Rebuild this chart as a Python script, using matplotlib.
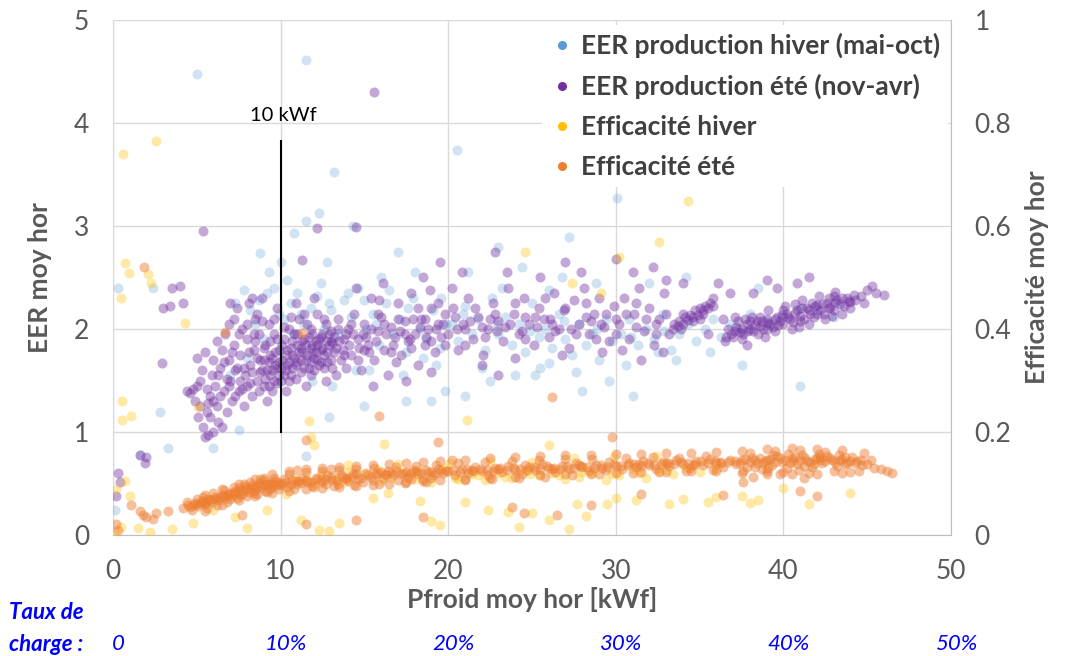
import matplotlib.pyplot as plt
from matplotlib.lines import Line2D
from matplotlib.transforms import blended_transform_factory

plt.rcParams['font.family'] = ['Lato', 'DejaVu Sans']

# EER production été (nov-avr) : (Pfroid kWf, EER)
eer_ete = [
    (4.4, 1.40), (4.6, 1.38), (4.8, 1.42), (5.0, 1.45), (4.9, 1.30), (5.2, 1.50), (5.1, 1.15), (5.4, 1.05),
    (5.5, 0.95), (5.7, 0.97), (5.6, 1.20), (5.8, 1.35), (5.3, 1.60), (5.9, 1.55), (6.0, 1.70), (6.1, 1.45),
    (6.2, 1.25), (6.3, 1.10), (6.0, 1.00), (6.4, 1.62), (6.5, 1.80), (6.6, 1.40), (6.8, 1.20), (6.7, 1.95),
    (6.9, 1.70), (7.0, 1.50), (7.1, 1.30), (6.9, 2.05), (7.2, 1.85), (7.3, 1.60), (5.0, 1.72), (5.5, 1.78),
    (6.2, 1.88), (5.7, 1.28), (6.5, 1.05),
    (7.4, 2.20), (7.5, 1.40), (7.6, 1.75), (7.7, 2.00), (7.8, 1.25), (7.9, 1.55), (8.0, 1.90), (8.1, 2.25),
    (8.2, 1.65), (8.3, 1.35), (8.4, 1.80), (8.5, 2.10), (8.6, 1.50), (8.7, 1.95), (8.8, 1.70), (8.9, 2.30),
    (9.0, 1.45), (9.1, 1.85), (9.2, 1.60), (9.3, 2.05), (9.4, 1.75), (9.5, 1.40), (9.6, 1.95), (9.7, 1.65),
    (9.8, 2.20), (9.9, 1.55), (7.5, 1.95), (8.0, 1.45), (8.6, 2.15), (9.2, 1.30), (9.6, 1.50), (9.9, 1.80),
    (8.3, 2.30), (7.2, 2.10), (7.0, 2.25), (8.9, 1.60), (9.5, 1.72), (9.8, 1.62), (9.4, 1.55), (9.0, 1.70),
    (10.0, 1.50), (10.1, 1.70), (10.2, 1.90), (10.3, 1.60), (10.4, 1.80), (10.5, 2.00), (10.6, 1.55),
    (10.7, 1.75), (10.8, 1.95), (10.9, 1.65), (11.0, 1.85), (11.1, 2.10), (11.2, 1.58), (11.3, 1.78),
    (11.4, 1.90), (11.5, 1.70), (11.6, 2.05), (11.7, 1.62), (11.8, 1.82), (11.9, 1.95), (12.0, 1.72),
    (12.1, 1.88), (12.2, 2.15), (12.3, 1.65), (12.4, 1.80), (12.5, 1.95), (12.6, 1.75), (12.7, 2.05),
    (12.8, 1.68), (12.9, 1.85), (13.0, 1.98), (13.2, 1.78), (13.4, 2.10), (13.6, 1.70), (13.8, 1.90),
    (14.0, 2.00), (10.3, 1.40), (10.9, 2.25), (11.5, 1.45), (12.0, 2.30), (12.7, 1.50), (13.3, 1.55),
    (13.9, 1.62), (10.5, 1.68), (11.2, 1.82), (11.9, 1.77), (12.4, 1.92), (10.7, 1.88), (11.8, 1.55),
    (13.1, 1.86),
    (14.2, 1.75), (14.4, 2.15), (14.6, 1.90), (14.8, 1.60), (15.0, 2.05), (15.2, 1.85), (15.4, 2.30),
    (15.6, 1.70), (15.8, 1.98), (16.0, 2.12), (16.2, 1.80), (16.4, 1.55), (16.6, 2.02), (16.8, 1.92),
    (17.0, 2.25), (17.2, 1.75), (17.4, 2.08), (17.6, 1.88), (17.8, 2.35), (18.0, 1.95), (18.2, 1.65),
    (18.4, 2.10), (18.6, 1.85), (18.8, 2.00), (19.0, 2.20), (19.2, 1.78), (19.4, 2.05), (19.6, 1.92),
    (19.8, 2.15), (14.5, 2.40), (16.1, 2.45), (17.5, 1.50), (18.5, 2.50), (15.5, 1.45), (19.0, 1.58),
    (16.9, 1.68), (14.9, 1.95), (18.9, 2.38), (17.9, 2.10), (15.9, 2.28),
    (20.0, 1.95), (20.3, 2.20), (20.6, 1.80), (20.9, 2.05), (21.2, 2.30), (21.5, 1.90), (21.8, 2.12),
    (22.1, 1.75), (22.4, 2.00), (22.7, 2.25), (23.0, 2.08), (23.3, 1.88), (23.6, 2.40), (23.9, 2.15),
    (24.2, 1.95), (24.5, 2.30), (24.8, 2.05), (25.1, 1.85), (25.4, 2.20), (25.7, 2.10), (26.0, 1.92),
    (26.3, 2.35), (26.6, 2.00), (26.9, 2.18), (27.2, 1.82), (27.5, 2.28), (27.8, 2.05), (28.1, 2.40),
    (28.4, 1.95), (28.7, 2.15), (29.0, 2.30), (29.3, 2.02), (29.6, 1.88), (29.9, 2.22), (20.8, 2.55),
    (22.0, 1.65), (23.5, 2.55), (24.0, 1.72), (25.5, 2.50), (26.8, 1.75), (27.9, 2.55), (29.2, 1.78),
    (21.0, 2.00), (22.5, 2.10), (24.6, 2.12), (26.2, 2.05), (28.5, 2.08), (20.2, 2.40), (27.0, 2.65),
    (23.0, 1.55),
    (30.2, 2.05), (30.5, 2.30), (30.8, 1.90), (31.1, 2.15), (31.4, 2.40), (31.7, 1.98), (32.0, 2.20),
    (32.3, 1.85), (32.6, 2.10), (32.9, 2.35), (33.2, 1.95), (33.5, 2.05), (33.8, 2.08), (34.1, 2.12),
    (34.4, 2.14), (34.7, 2.18), (35.0, 2.20), (35.3, 2.22), (35.6, 2.25), (33.9, 2.00), (34.6, 2.08),
    (35.2, 2.15), (35.8, 2.30), (36.1, 2.45), (36.4, 2.10), (36.7, 2.00), (30.4, 1.80), (31.5, 1.70),
    (32.8, 1.78), (34.0, 2.45), (35.5, 1.95), (31.0, 2.55), (32.2, 2.60), (33.0, 2.48), (36.8, 2.35),
    (30.0, 2.68), (36.5, 1.88),
    (37.0, 1.92), (37.2, 2.02), (37.4, 1.97), (37.6, 1.95), (37.8, 2.05), (38.0, 2.00), (38.2, 1.98),
    (38.4, 2.08), (38.6, 2.03), (38.8, 2.00), (39.0, 2.10), (39.2, 2.05), (39.4, 2.02), (39.6, 2.12),
    (39.8, 2.08), (40.0, 2.05), (40.2, 2.15), (40.4, 2.10), (40.6, 2.07), (40.8, 2.18), (41.0, 2.13),
    (41.2, 2.10), (41.4, 2.20), (41.6, 2.15), (41.8, 2.12), (42.0, 2.23), (42.2, 2.18), (42.4, 2.15),
    (42.6, 2.25), (42.8, 2.21), (43.0, 2.18), (43.2, 2.28), (43.4, 2.24), (43.6, 2.22), (43.8, 2.30),
    (44.0, 2.26), (44.3, 2.28), (37.5, 1.90), (38.5, 1.95), (39.5, 1.98), (40.5, 2.00), (41.5, 2.05),
    (42.5, 2.10), (43.5, 2.15), (38.1, 2.12), (39.1, 2.18), (40.1, 2.22), (41.1, 2.28), (42.1, 2.32),
    (43.1, 2.36), (37.3, 2.08), (38.9, 1.92), (40.9, 2.02), (42.9, 2.13), (44.6, 2.32), (45.0, 2.38),
    (45.5, 2.35), (46.0, 2.33), (45.3, 2.42), (44.8, 2.25), (39.6, 2.40), (40.8, 2.45), (38.2, 2.35),
    (41.5, 2.50), (37.8, 1.85), (39.0, 2.48), (36.9, 1.95), (37.1, 2.12), (36.6, 1.92),
    (15.6, 4.30), (5.4, 2.95), (12.2, 2.98), (14.5, 2.99), (0.3, 0.60), (0.4, 0.52), (0.2, 0.38),
    (1.6, 0.78), (2.0, 0.76), (1.9, 0.70), (2.9, 1.67), (3.5, 2.40), (4.0, 2.42), (3.4, 2.22),
    (4.2, 2.25), (3.0, 2.20), (22.8, 2.75), (19.5, 2.65), (11.3, 2.67),
    # coeur dense
    (8.6, 1.72), (8.8, 1.58), (9.0, 1.82), (9.1, 1.52), (9.3, 1.68), (9.4, 1.88), (9.5, 1.60),
    (9.7, 1.78), (9.8, 1.48), (9.9, 1.68), (10.0, 1.62), (10.1, 1.85), (10.2, 1.55), (10.3, 1.75),
    (10.4, 1.65), (10.5, 1.50), (10.6, 1.82), (10.7, 1.62), (10.8, 1.72), (10.9, 1.52), (11.0, 1.68),
    (11.1, 1.78), (11.2, 1.70), (11.3, 1.88), (11.4, 1.62), (11.5, 1.85), (11.6, 1.75), (11.7, 1.92),
    (11.8, 1.68), (11.9, 1.85), (12.0, 1.60), (12.1, 1.78), (12.2, 1.70), (12.3, 1.90), (12.4, 1.68),
    (12.5, 1.82), (12.6, 1.62), (12.7, 1.88), (12.8, 1.78), (12.9, 1.95), (13.0, 1.70), (13.1, 1.62),
    (13.2, 1.92), (13.3, 1.82), (13.5, 1.88), (13.7, 1.80), (13.9, 1.95), (14.1, 1.85), (14.3, 1.95),
    (14.7, 1.82), (15.1, 1.92), (15.3, 1.78), (15.7, 1.88), (16.3, 1.95), (16.7, 1.85), (17.1, 1.98),
    (17.7, 1.90), (18.3, 2.02), (18.7, 1.92), (19.3, 2.00), (19.7, 2.05), (20.5, 2.00), (21.3, 2.08),
    (22.0, 2.02), (22.9, 1.98), (23.7, 2.05), (24.4, 1.98), (25.3, 2.02), (26.1, 2.10), (27.3, 2.00),
    (28.2, 2.12), (29.1, 2.05), (30.0, 2.10), (31.2, 2.02), (32.4, 2.05), (7.8, 1.62), (8.2, 1.48),
    (8.4, 1.95), (7.6, 1.50), (8.1, 1.78), (6.4, 1.35), (5.8, 1.15), (6.9, 1.45), (7.3, 1.35),
    (37.1, 1.98), (37.5, 2.00), (37.9, 1.98), (38.3, 2.04), (38.7, 2.08), (39.1, 2.06), (39.5, 2.10),
    (39.9, 2.14), (40.3, 2.12), (40.7, 2.16), (41.1, 2.20), (41.5, 2.18), (41.9, 2.22), (42.3, 2.24),
    (42.7, 2.20), (43.1, 2.26), (43.5, 2.30), (43.9, 2.27), (44.2, 2.33), (38.0, 2.08), (39.0, 2.00),
    (40.0, 2.18), (41.0, 2.08), (42.0, 2.15), (43.0, 2.32), (44.0, 2.20), (37.7, 2.10), (38.6, 2.12),
    (39.7, 2.04), (40.7, 2.24), (41.7, 2.25), (42.7, 2.30),
    (33.4, 2.00), (33.7, 2.03), (34.0, 2.05), (34.3, 2.09), (34.6, 2.12), (34.9, 2.14), (35.2, 2.18),
    (35.5, 2.20), (35.8, 2.22), (34.0, 2.15), (35.0, 2.10),
    (5.2, 1.25), (5.6, 1.42), (6.0, 1.30), (6.3, 1.55), (6.6, 1.68), (6.8, 1.52), (7.1, 1.78),
    (7.4, 1.62), (7.7, 1.42), (8.0, 2.05), (8.3, 1.58), (8.5, 1.88), (8.7, 1.40), (8.9, 2.08),
    (9.3, 1.45), (9.6, 2.10), (9.8, 1.90), (10.2, 2.02), (10.6, 2.12), (11.0, 1.95), (11.4, 2.15),
    (11.8, 2.00), (12.2, 1.85), (12.6, 2.10), (13.0, 1.88), (13.4, 2.00), (13.8, 1.75), (14.2, 2.05),
    (14.6, 1.70), (15.0, 1.80), (15.4, 2.00), (15.8, 2.15), (16.2, 2.05), (16.6, 1.78), (17.0, 2.10),
    (17.4, 1.95), (17.8, 1.82), (18.2, 2.20), (18.6, 2.10), (19.0, 1.88), (19.4, 2.25), (19.8, 1.85),
    (20.4, 2.12), (21.0, 1.85), (21.6, 2.20), (22.2, 1.92), (22.8, 2.15), (23.4, 2.02), (24.0, 2.25),
    (24.6, 1.90), (25.2, 2.12), (25.8, 2.30), (26.4, 1.98), (27.0, 2.20), (27.6, 1.95), (28.2, 2.25),
    (28.8, 1.90), (29.4, 2.15), (30.0, 1.95), (30.6, 2.15), (31.2, 2.25), (31.8, 2.10), (32.4, 1.95),
    (33.0, 2.15),
]

# EER production hiver (mai-oct)
eer_hiver = [
    (5.0, 4.47), (11.5, 4.61), (20.5, 3.74), (13.2, 3.52), (11.5, 3.05), (12.3, 3.13), (14.3, 3.00),
    (10.8, 2.93), (30.1, 3.27), (27.2, 2.89), (8.8, 2.74), (0.3, 2.40), (0.1, 0.25), (1.6, 0.78),
    (3.3, 0.85), (6.0, 0.85), (7.5, 1.02), (11.5, 0.77), (26.0, 1.67), (37.5, 1.65), (41.0, 1.45),
    (31.0, 1.35), (28.0, 1.40), (32.5, 1.78), (12.8, 2.65), (17.0, 2.75), (9.3, 2.55), (10.0, 2.65),
    (12.9, 1.15), (15.0, 1.25), (17.5, 1.30), (19.8, 1.40), (21.0, 1.35), (22.5, 1.50), (24.0, 1.55),
    (25.5, 1.62), (23.0, 2.80), (19.0, 1.30), (2.4, 2.40), (2.8, 1.20),
    (7.3, 2.25), (7.8, 2.38), (8.2, 2.18), (8.7, 2.28), (9.2, 2.35), (9.6, 2.40), (9.9, 2.15),
    (8.5, 2.05), (9.0, 1.90), (7.0, 1.55), (8.0, 1.72),
    (10.2, 2.10), (10.6, 2.25), (11.0, 2.35), (11.4, 2.05), (11.8, 2.20), (12.2, 2.32), (12.6, 2.00),
    (13.0, 2.18), (13.4, 1.95), (13.8, 2.28), (14.2, 2.12), (14.6, 2.40), (10.8, 1.95), (11.9, 1.50),
    (13.1, 1.45), (14.5, 1.60), (12.4, 2.45), (10.4, 2.48),
    (15.1, 2.00), (15.5, 2.15), (15.9, 1.85), (16.3, 2.25), (16.7, 1.95), (17.1, 2.10), (17.5, 1.78),
    (17.9, 2.30), (18.3, 2.00), (18.7, 1.90), (19.1, 2.18), (19.5, 1.82), (19.9, 2.05), (16.0, 2.50),
    (18.0, 2.55), (15.3, 1.60), (17.3, 1.55), (19.3, 1.65), (16.5, 2.38), (18.5, 1.72),
    (20.2, 2.05), (20.6, 1.88), (21.0, 2.22), (21.4, 1.95), (21.8, 2.10), (22.2, 1.80), (22.6, 2.30),
    (23.0, 1.95), (23.4, 2.12), (23.8, 1.85), (24.2, 2.05), (24.6, 1.78), (25.0, 2.25), (25.4, 1.92),
    (25.8, 2.00), (26.2, 1.82), (26.6, 2.15), (27.0, 1.90), (27.4, 1.75), (27.8, 2.05), (28.2, 1.85),
    (28.6, 1.95), (29.0, 1.70), (29.4, 2.10), (29.8, 1.88), (21.2, 2.55), (24.4, 2.60), (26.8, 2.50),
    (28.8, 2.45), (22.0, 1.62), (25.2, 1.55), (27.6, 1.58), (29.6, 1.50), (23.2, 2.40), (26.0, 2.38),
    (30.3, 1.95), (30.8, 2.10), (31.3, 1.85), (31.8, 2.00), (32.3, 1.90), (32.8, 2.15), (33.3, 1.80),
    (33.8, 1.95), (34.3, 2.05), (34.8, 1.88), (35.3, 2.00), (35.8, 2.10), (36.3, 1.92), (36.8, 2.05),
    (37.3, 2.00), (38.0, 2.15), (39.0, 2.08), (40.0, 2.12), (41.0, 2.20), (42.0, 2.18), (43.0, 2.12),
    (32.0, 2.45), (30.6, 1.65), (33.6, 1.70), (35.6, 1.78), (38.5, 2.40), (34.2, 2.50),
    (11.2, 2.15), (12.9, 2.25), (14.0, 2.35), (15.7, 2.05), (17.6, 2.20), (19.6, 2.30), (20.9, 2.15),
    (22.9, 2.05), (24.9, 1.98), (26.9, 2.08), (28.9, 2.00), (30.9, 1.92), (32.9, 1.98), (15.0, 2.28),
]

# Efficacité été (axe secondaire)
eff_ete = [
    (4.2, 0.052), (4.5, 0.058), (4.7, 0.050), (4.9, 0.062), (5.1, 0.056), (5.3, 0.066), (5.5, 0.060),
    (5.7, 0.070), (5.9, 0.064), (6.1, 0.074), (6.3, 0.068), (6.5, 0.078), (6.7, 0.072), (6.9, 0.082),
    (5.0, 0.070), (5.6, 0.052), (6.2, 0.058), (6.8, 0.064), (4.4, 0.064), (6.0, 0.082), (6.6, 0.088),
    (7.0, 0.070), (5.4, 0.074),
    (7.1, 0.076), (7.3, 0.086), (7.5, 0.092), (7.7, 0.080), (7.9, 0.095), (8.1, 0.084), (8.3, 0.098),
    (8.5, 0.088), (8.7, 0.102), (8.9, 0.092), (9.1, 0.085), (9.3, 0.100), (9.5, 0.094), (9.7, 0.106),
    (9.9, 0.090), (7.4, 0.072), (8.0, 0.076), (8.6, 0.080), (9.2, 0.084), (9.8, 0.098), (7.8, 0.100),
    (8.8, 0.110), (9.6, 0.112),
    (10.1, 0.102), (10.4, 0.094), (10.7, 0.108), (11.0, 0.100), (11.3, 0.112), (11.6, 0.104),
    (11.9, 0.096), (12.2, 0.110), (12.5, 0.104), (12.8, 0.116), (13.1, 0.108), (13.4, 0.100),
    (13.7, 0.114), (14.0, 0.106), (14.3, 0.118), (14.6, 0.110), (14.9, 0.104), (10.5, 0.118),
    (11.5, 0.122), (12.5, 0.124), (13.5, 0.126), (14.5, 0.128), (10.8, 0.090), (12.0, 0.094),
    (13.2, 0.096), (14.4, 0.098), (11.1, 0.106), (12.7, 0.100), (13.9, 0.112), (10.2, 0.110),
    (15.2, 0.116), (15.5, 0.108), (15.8, 0.120), (16.1, 0.112), (16.4, 0.124), (16.7, 0.116),
    (17.0, 0.108), (17.3, 0.120), (17.6, 0.114), (17.9, 0.126), (18.2, 0.118), (18.5, 0.110),
    (18.8, 0.122), (19.1, 0.116), (19.4, 0.128), (19.7, 0.120), (15.6, 0.130), (16.9, 0.132),
    (18.1, 0.134), (19.3, 0.136), (15.9, 0.100), (17.4, 0.102), (18.7, 0.104), (16.3, 0.118),
    (17.8, 0.110), (19.0, 0.112),
    (20.0, 0.124), (20.4, 0.116), (20.8, 0.128), (21.2, 0.120), (21.6, 0.132), (22.0, 0.124),
    (22.4, 0.116), (22.8, 0.130), (23.2, 0.122), (23.6, 0.134), (24.0, 0.126), (24.4, 0.118),
    (24.8, 0.132), (25.2, 0.126), (25.6, 0.138), (26.0, 0.130), (26.4, 0.122), (26.8, 0.134),
    (27.2, 0.128), (27.6, 0.140), (28.0, 0.132), (28.4, 0.124), (28.8, 0.136), (29.2, 0.130),
    (29.6, 0.142), (20.6, 0.140), (22.2, 0.142), (23.8, 0.144), (25.4, 0.146), (27.0, 0.148),
    (28.6, 0.148), (21.0, 0.108), (22.6, 0.110), (24.2, 0.112), (25.8, 0.114), (27.4, 0.116),
    (29.0, 0.118), (21.4, 0.126), (23.0, 0.128), (24.6, 0.136), (26.2, 0.128), (27.8, 0.136),
    (29.4, 0.126),
    (30.0, 0.134), (30.4, 0.128), (30.8, 0.140), (31.2, 0.132), (31.6, 0.144), (32.0, 0.136),
    (32.4, 0.128), (32.8, 0.142), (33.2, 0.134), (33.6, 0.146), (34.0, 0.138), (34.4, 0.130),
    (34.8, 0.144), (35.2, 0.136), (35.6, 0.148), (36.0, 0.140), (36.4, 0.132), (36.8, 0.146),
    (30.6, 0.150), (32.2, 0.152), (33.8, 0.150), (35.4, 0.154), (31.0, 0.120), (32.6, 0.122),
    (34.2, 0.124), (35.8, 0.126), (31.4, 0.138), (33.0, 0.140), (34.6, 0.136), (36.2, 0.142),
    (37.2, 0.138), (37.5, 0.146), (37.8, 0.132), (38.1, 0.150), (38.4, 0.140), (38.7, 0.128),
    (39.0, 0.146), (39.3, 0.136), (39.6, 0.154), (39.9, 0.142), (40.2, 0.130), (40.5, 0.150),
    (40.8, 0.138), (41.1, 0.156), (41.4, 0.144), (41.7, 0.132), (42.0, 0.150), (42.3, 0.140),
    (42.6, 0.154), (42.9, 0.146), (43.2, 0.134), (43.5, 0.148), (43.8, 0.140), (44.1, 0.152),
    (44.4, 0.144), (44.7, 0.136), (38.0, 0.160), (39.5, 0.164), (41.0, 0.166), (42.5, 0.162),
    (40.0, 0.122), (41.5, 0.120), (43.0, 0.124), (44.0, 0.122), (37.6, 0.124), (39.8, 0.118),
    (45.0, 0.138), (45.4, 0.130), (45.8, 0.128), (46.2, 0.124), (46.5, 0.120), (45.2, 0.146),
    (38.8, 0.140), (40.6, 0.144), (42.2, 0.146), (43.7, 0.152), (41.8, 0.138), (39.1, 0.130),
    (1.8, 0.040), (2.0, 0.036), (2.6, 0.044), (2.4, 0.032), (0.2, 0.022), (0.3, 0.010), (1.1, 0.058),
    (1.6, 0.048), (14.5, 0.030), (15.9, 0.232), (26.2, 0.268), (11.5, 0.022), (23.8, 0.054),
    (24.5, 0.044), (18.5, 0.036), (31.5, 0.080), (28.5, 0.058), (36.4, 0.078), (41.0, 0.086),
    (42.0, 0.076), (37.6, 0.104), (26.5, 0.040), (29.8, 0.190), (7.7, 0.040), (11.5, 0.185),
    (19.4, 0.180), (3.3, 0.048), (1.85, 0.520), (6.7, 0.394), (11.3, 0.392),
    # bande dense
    (4.6, 0.054), (4.8, 0.058), (5.0, 0.060), (5.2, 0.062), (5.4, 0.064), (5.6, 0.066), (5.8, 0.068),
    (6.0, 0.070), (6.2, 0.072), (6.4, 0.074), (6.6, 0.076), (6.8, 0.078), (7.0, 0.080), (7.2, 0.082),
    (7.4, 0.084), (7.6, 0.086), (7.8, 0.088), (8.0, 0.090), (8.2, 0.092), (8.4, 0.094), (8.6, 0.096),
    (8.8, 0.098), (9.0, 0.098), (9.2, 0.100), (9.4, 0.102), (9.6, 0.100), (9.8, 0.104), (7.2, 0.094),
    (7.6, 0.078), (8.2, 0.104), (8.4, 0.082), (9.0, 0.108), (9.4, 0.090),
    (10.0, 0.098), (10.3, 0.104), (10.6, 0.100), (10.9, 0.106), (11.2, 0.102), (11.5, 0.108),
    (11.8, 0.104), (12.1, 0.112), (12.4, 0.108), (12.7, 0.110), (13.0, 0.114), (13.3, 0.108),
    (13.6, 0.116), (13.9, 0.110), (14.2, 0.114), (14.5, 0.118), (14.8, 0.112), (15.1, 0.120),
    (15.4, 0.114), (15.7, 0.118), (16.0, 0.122), (16.3, 0.116), (16.6, 0.120), (16.9, 0.124),
    (17.2, 0.118), (17.5, 0.122), (17.8, 0.120), (18.1, 0.124), (18.4, 0.120), (18.7, 0.126),
    (19.0, 0.122), (19.3, 0.120), (19.6, 0.126), (19.9, 0.124),
    (20.3, 0.126), (20.7, 0.122), (21.1, 0.128), (21.5, 0.124), (21.9, 0.128), (22.3, 0.126),
    (22.7, 0.124), (23.1, 0.130), (23.5, 0.126), (23.9, 0.130), (24.3, 0.128), (24.7, 0.126),
    (25.1, 0.132), (25.5, 0.128), (25.9, 0.134), (26.3, 0.130), (26.7, 0.128), (27.1, 0.134),
    (27.5, 0.130), (27.9, 0.134), (28.3, 0.132), (28.7, 0.130), (29.1, 0.136), (29.5, 0.132),
    (29.9, 0.138), (30.3, 0.134), (30.7, 0.136), (31.1, 0.138), (31.5, 0.134), (31.9, 0.140),
    (32.3, 0.136), (32.7, 0.138), (33.1, 0.140), (33.5, 0.138), (33.9, 0.142), (34.3, 0.140),
    (34.7, 0.138), (35.1, 0.144), (35.5, 0.140), (35.9, 0.144), (36.3, 0.140), (36.7, 0.142),
    (37.1, 0.144), (37.4, 0.140), (37.7, 0.148), (38.0, 0.142), (38.3, 0.146), (38.6, 0.150),
    (38.9, 0.144), (39.2, 0.148), (39.5, 0.142), (39.8, 0.150), (40.1, 0.146), (40.4, 0.140),
    (40.7, 0.152), (41.0, 0.146), (41.3, 0.150), (41.6, 0.142), (41.9, 0.148), (42.2, 0.152),
    (42.5, 0.144), (42.8, 0.150), (43.1, 0.142), (43.4, 0.146), (43.7, 0.138), (44.0, 0.144),
    (44.3, 0.140), (44.6, 0.146), (38.3, 0.132), (39.4, 0.156), (40.3, 0.158), (41.2, 0.134),
    (42.1, 0.158), (43.3, 0.156), (40.9, 0.126), (39.0, 0.124),
    # bords de bande
    (5.5, 0.078), (6.5, 0.090), (7.5, 0.100), (8.5, 0.110), (9.5, 0.118), (10.5, 0.124),
    (11.5, 0.128), (12.5, 0.130), (13.5, 0.132), (14.5, 0.134), (15.5, 0.136), (16.5, 0.138),
    (17.5, 0.140), (18.5, 0.142), (19.5, 0.144), (21.0, 0.146), (22.5, 0.150), (24.0, 0.152),
    (25.5, 0.154), (27.0, 0.156), (28.5, 0.156), (30.0, 0.158), (31.5, 0.158), (33.0, 0.160),
    (34.5, 0.160), (36.0, 0.162), (37.5, 0.164), (39.0, 0.168), (40.5, 0.170), (42.0, 0.168),
    (43.5, 0.166), (44.8, 0.160), (9.0, 0.112), (11.0, 0.126), (13.0, 0.128), (20.2, 0.146),
    (5.5, 0.048), (6.5, 0.058), (7.5, 0.068), (8.5, 0.076), (9.5, 0.082), (10.5, 0.086),
    (11.5, 0.090), (12.5, 0.092), (13.5, 0.094), (14.5, 0.096), (15.5, 0.098), (16.5, 0.100),
    (17.5, 0.104), (18.5, 0.106), (19.5, 0.108), (21.0, 0.110), (22.5, 0.112), (24.0, 0.114),
    (25.5, 0.116), (27.0, 0.118), (28.5, 0.118), (30.0, 0.120), (31.5, 0.122), (33.0, 0.122),
    (34.5, 0.124), (36.0, 0.124), (37.5, 0.120), (39.0, 0.118), (40.5, 0.118), (42.0, 0.118),
    (43.5, 0.120), (44.5, 0.124), (38.2, 0.114), (41.2, 0.112),
]

# Efficacité hiver (axe secondaire)
eff_hiver = [
    (8.5, 0.094), (9.5, 0.100), (10.8, 0.110), (11.6, 0.108), (12.4, 0.116), (13.3, 0.112),
    (14.1, 0.122), (15.0, 0.118), (15.8, 0.126), (16.6, 0.112), (17.4, 0.120), (18.2, 0.124),
    (19.0, 0.104), (19.8, 0.130), (20.6, 0.110), (21.4, 0.118), (22.2, 0.108), (23.0, 0.120),
    (23.8, 0.112), (24.6, 0.124), (25.4, 0.116), (26.2, 0.120), (27.0, 0.110), (27.8, 0.114),
    (28.6, 0.120), (29.4, 0.108), (30.2, 0.116), (31.0, 0.128), (31.8, 0.112), (32.6, 0.124),
    (33.4, 0.118), (34.2, 0.130), (35.0, 0.122), (36.0, 0.128), (20.1, 0.140), (22.5, 0.144),
    (25.0, 0.142), (27.5, 0.150), (29.9, 0.152), (32.4, 0.154), (14.0, 0.136), (17.0, 0.138),
    (20.4, 0.112), (21.8, 0.116), (23.4, 0.114), (24.9, 0.118), (26.6, 0.116), (28.0, 0.122),
    (29.8, 0.118), (31.4, 0.120), (33.0, 0.126), (12.0, 0.102), (13.8, 0.104), (16.0, 0.106),
    (18.0, 0.110),
    (0.1, 0.004), (0.5, 0.016), (1.5, 0.014), (2.2, 0.006), (3.5, 0.012), (4.8, 0.024), (5.5, 0.060),
    (6.0, 0.050), (7.3, 0.036), (8.0, 0.014), (9.2, 0.050), (10.3, 0.080), (11.2, 0.030),
    (12.3, 0.010), (12.9, 0.008), (13.5, 0.024), (15.5, 0.072), (16.4, 0.082), (18.3, 0.066),
    (19.0, 0.028), (19.5, 0.020), (21.0, 0.064), (22.4, 0.050), (23.6, 0.046), (24.2, 0.016),
    (25.0, 0.044), (26.0, 0.030), (27.2, 0.012), (27.7, 0.060), (28.2, 0.038), (29.5, 0.060),
    (30.0, 0.072), (31.2, 0.068), (33.2, 0.060), (34.0, 0.070), (35.5, 0.064), (36.0, 0.074),
    (37.5, 0.076), (38.0, 0.062), (38.5, 0.068), (40.0, 0.092), (41.5, 0.060), (44.0, 0.082),
    (0.2, 0.090), (1.0, 0.076), (0.7, 0.106),
    (0.6, 0.740), (2.6, 0.765), (0.7, 0.528), (0.95, 0.508), (2.1, 0.506), (2.3, 0.490),
    (0.5, 0.460), (4.3, 0.412), (24.6, 0.550), (30.2, 0.540), (32.6, 0.568), (27.4, 0.490),
    (29.1, 0.470), (21.1, 0.224), (0.55, 0.260), (1.1, 0.232), (0.55, 0.224), (5.1, 0.248),
    (11.7, 0.222), (34.3, 0.648), (11.8, 0.190), (16.2, 0.178), (26.0, 0.176), (12.0, 0.176),
]

x_ticks = [0, 10, 20, 30, 40, 50]
taux_labels = ["0", "10%", "20%", "30%", "40%", "50%"]

BLUE = "#5B9BD5"
PURPLE = "#7030A0"
YELLOW = "#FFC000"
ORANGE = "#ED7D31"
GREY = "#595959"


def xy(pts):
    return [p[0] for p in pts], [p[1] for p in pts]


fig = plt.figure(figsize=(10.65, 6.56), dpi=100)
ax = fig.add_axes([0.106, 0.184, 0.787, 0.786])
ax2 = ax.twinx()

x, y = xy(eer_hiver)
ax.scatter(x, y, s=52, color=BLUE, alpha=0.28, linewidths=0, zorder=3)
x, y = xy(eer_ete)
ax.scatter(x, y, s=52, color=PURPLE, alpha=0.42, linewidths=0, zorder=3)
x, y = xy(eff_hiver)
ax2.scatter(x, y, s=52, color=YELLOW, alpha=0.35, linewidths=0, zorder=3)
x, y = xy(eff_ete)
ax2.scatter(x, y, s=52, color=ORANGE, alpha=0.48, linewidths=0, zorder=3)

ax.set_xlim(0, 50)
ax.set_ylim(0, 5)
ax2.set_ylim(0, 1)
ax.set_xticks(x_ticks)
ax.set_yticks([0, 1, 2, 3, 4, 5])
ax2.set_yticks([0, 0.2, 0.4, 0.6, 0.8, 1])
ax2.set_yticklabels(["0", "0.2", "0.4", "0.6", "0.8", "1"])

ax.grid(True, color="#D9D9D9", lw=1)
ax.set_axisbelow(True)
for a in (ax, ax2):
    for s in a.spines.values():
        s.set_visible(False)
    a.tick_params(length=0, labelsize=19, labelcolor=GREY, pad=17)
ax2.spines["right"].set_visible(True)
ax2.spines["right"].set_color("#BFBFBF")
ax.spines["bottom"].set_visible(True)
ax.spines["bottom"].set_color("#BFBFBF")
ax.spines["left"].set_visible(True)
ax.spines["left"].set_color("#D9D9D9")

ax.set_ylabel("EER moy hor", fontsize=19, fontweight="bold", color=GREY, labelpad=16)
ax2.set_ylabel("Efficacité moy hor", fontsize=19, fontweight="bold", color=GREY, labelpad=10)
ax.set_xlabel("Pfroid moy hor [kWf]", fontsize=19, fontweight="bold", color=GREY, labelpad=2)

# repère 10 kWf
ax.plot([10, 10], [1, 3.82], color="black", lw=1.5, zorder=4)
ax.text(10.2, 4.07, "10 kWf", fontsize=14.5, ha="center", va="center", color="black", zorder=5)

handles = [
    Line2D([], [], ls="", marker="o", ms=5.5, color=BLUE),
    Line2D([], [], ls="", marker="o", ms=5.5, color=PURPLE),
    Line2D([], [], ls="", marker="o", ms=5.5, color=YELLOW),
    Line2D([], [], ls="", marker="o", ms=5.5, color=ORANGE),
]
labels = ["EER production hiver (mai-oct)", "EER production été (nov-avr)",
          "Efficacité hiver", "Efficacité été"]
leg = ax2.legend(handles, labels, loc="upper right", bbox_to_anchor=(1.0, 0.995),
                 frameon=True, fontsize=19, handletextpad=0.3, labelspacing=0.6,
                 borderaxespad=0.1, handlelength=0.9, borderpad=0.3)
leg.get_frame().set_edgecolor("none")
leg.get_frame().set_facecolor("white")
leg.get_frame().set_alpha(1)
for t in leg.get_texts():
    t.set_fontweight("bold")
    t.set_color("#404040")

# Taux de charge
blue_txt = "#0000FF"
fig.text(0.008, 0.066, "Taux de", fontsize=16, fontweight="bold", style="italic",
         color=blue_txt, va="center")
fig.text(0.008, 0.018, "charge :", fontsize=16, fontweight="bold", style="italic",
         color=blue_txt, va="center")
tr = blended_transform_factory(ax.transData, fig.transFigure)
for xv, lab in zip(x_ticks, taux_labels):
    ax.text(xv + 0.3, 0.018, lab, transform=tr, fontsize=16, style="italic",
            color=blue_txt, ha="center", va="center")

fig.savefig("out.png", dpi=100)
